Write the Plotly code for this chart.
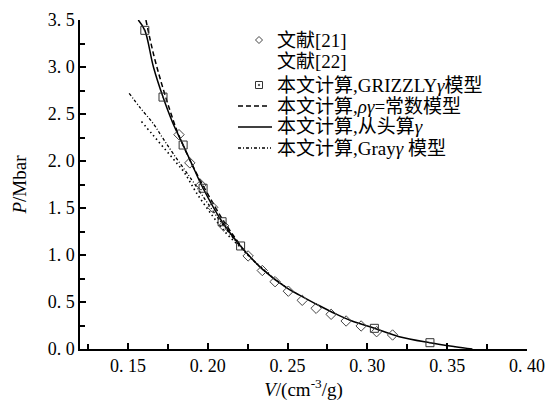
import plotly.graph_objects as go

# 文献[21] (diamonds)
ref21_v = [0.182, 0.1888, 0.1958, 0.2031, 0.2100, 0.2253, 0.2342, 0.2422, 0.2505,
           0.2592, 0.2679, 0.2773, 0.2867, 0.2961, 0.3058, 0.3158]
ref21_p = [2.28, 1.98, 1.745, 1.507, 1.31, 0.99, 0.835, 0.716, 0.615,
           0.518, 0.433, 0.369, 0.298, 0.245, 0.184, 0.149]

# 文献[22] (dotted curve)
ref22_v = [0.1585, 0.1650, 0.1720, 0.1790, 0.1856, 0.1930, 0.2033, 0.2117, 0.2200, 0.2300, 0.2400]
ref22_p = [2.42, 2.29, 2.15, 2.01, 1.87, 1.66, 1.41, 1.23, 1.09, 0.92, 0.78]

# GRIZZLY gamma model (squares)
griz_v = [0.1606, 0.1720, 0.1846, 0.1971, 0.2090, 0.2206, 0.3044, 0.3392]
griz_p = [3.39, 2.68, 2.17, 1.71, 1.354, 1.096, 0.22, 0.067]

# rho*gamma = const model (dashed)
rg_v = [0.1613, 0.1660, 0.1710, 0.1763, 0.1815, 0.1900, 0.2000, 0.2100, 0.2206]
rg_p = [3.50, 3.14, 2.83, 2.54, 2.29, 1.97, 1.65, 1.36, 1.10]

# ab initio gamma (solid)
ab_v = [0.1565, 0.1606, 0.1660, 0.1720, 0.1780, 0.1846, 0.1900, 0.1971, 0.2090, 0.2206,
        0.2342, 0.2500, 0.2575, 0.2700, 0.2800, 0.2900, 0.3044, 0.3200, 0.3392, 0.3550, 0.3658]
ab_p = [3.50, 3.39, 3.00, 2.68, 2.41, 2.17, 1.97, 1.71, 1.354, 1.096,
        0.85, 0.645, 0.574, 0.46, 0.375, 0.30, 0.22, 0.131, 0.067, 0.025, 0.0]

# Gray gamma model (dash-dot)
gray_v = [0.1508, 0.1580, 0.1658, 0.1720, 0.1783, 0.1900, 0.2000, 0.2100, 0.2200, 0.2342, 0.2500]
gray_p = [2.72, 2.56, 2.40, 2.24, 2.08, 1.80, 1.55, 1.31, 1.10, 0.85, 0.645]

legend_labels = ["文献[21]", "文献[22]", "本文计算,GRIZZLY<i>γ</i>模型",
                 "本文计算,<i>ργ</i>=常数模型", "本文计算,从头算<i>γ</i>",
                 "本文计算,Gray<i>γ</i> 模型"]

x_tickvals = [0.15, 0.20, 0.25, 0.30, 0.35, 0.40]
x_ticktext = ["0. 15", "0. 20", "0. 25", "0. 30", "0. 35", "0. 40"]
y_tickvals = [0.0, 0.5, 1.0, 1.5, 2.0, 2.5, 3.0, 3.5]
y_ticktext = ["0. 0", "0. 5", "1. 0", "1. 5", "2. 0", "2. 5", "3. 0", "3. 5"]

FONT = "Liberation Serif, Noto Sans CJK SC, serif"
ML, MR, MT, MB = 80, 22, 20, 57
W, H = 549, 406
PW, PH = W - ML - MR, H - MT - MB


def px(x):
    return (x - ML) / PW


def py(y):
    return (H - MB - y) / PH


DASH_RG = "5px,3px"
DASH_GRAY = "3px,2px,1px,2px"
DASH_22 = "1.5px,3px"

fig = go.Figure()

fig.add_trace(go.Scatter(x=gray_v, y=gray_p, mode="lines", showlegend=False,
                         line=dict(color="black", width=1.3, dash=DASH_GRAY, shape="spline")))
fig.add_trace(go.Scatter(x=ref22_v, y=ref22_p, mode="lines", showlegend=False,
                         line=dict(color="black", width=1.6, dash=DASH_22, shape="spline")))
fig.add_trace(go.Scatter(x=rg_v, y=rg_p, mode="lines", showlegend=False,
                         line=dict(color="black", width=1.5, dash=DASH_RG, shape="spline")))
fig.add_trace(go.Scatter(x=ab_v, y=ab_p, mode="lines", showlegend=False,
                         line=dict(color="black", width=1.5, shape="spline")))
fig.add_trace(go.Scatter(x=ref21_v, y=ref21_p, mode="markers", showlegend=False,
                         marker=dict(symbol="diamond-open", size=8, color="#444",
                                     line=dict(width=1))))
fig.add_trace(go.Scatter(x=griz_v, y=griz_p, mode="markers", showlegend=False,
                         marker=dict(symbol="square-open-dot", size=8, color="#333",
                                     line=dict(width=1))))

# manual legend
row_y = [40, 62, 85, 106, 127, 148]
text_x = 275
annotations = []
for lab, yy in zip(legend_labels, row_y):
    annotations.append(dict(text=lab, x=px(text_x), y=py(yy), xref="paper", yref="paper",
                            xanchor="left", yanchor="middle", showarrow=False,
                            font=dict(size=19, family=FONT, color="black")))

shapes = []
shapes.append(dict(type="path", xref="paper", yref="paper", xsizemode="pixel", ysizemode="pixel",
                   xanchor=px(259), yanchor=py(row_y[0]),
                   path="M -3.5 0 L 0 3.5 L 3.5 0 L 0 -3.5 Z",
                   line=dict(color="#444", width=1)))
shapes.append(dict(type="rect", xref="paper", yref="paper", xsizemode="pixel", ysizemode="pixel",
                   xanchor=px(259), yanchor=py(row_y[2]), x0=-3.5, x1=3.5, y0=-3.5, y1=3.5,
                   line=dict(color="#333", width=1)))
shapes.append(dict(type="rect", xref="paper", yref="paper", xsizemode="pixel", ysizemode="pixel",
                   xanchor=px(259), yanchor=py(row_y[2]), x0=-0.6, x1=0.6, y0=-0.6, y1=0.6,
                   line=dict(color="#333", width=0.8), fillcolor="#333"))
for yy, dash, x0, x1, w in [(row_y[3], DASH_RG, 238, 270, 1.5),
                            (row_y[4], "solid", 238, 272, 1.5),
                            (row_y[5], DASH_GRAY, 238, 271, 1.3)]:
    shapes.append(dict(type="line", xref="paper", yref="paper",
                       x0=px(x0), x1=px(x1), y0=py(yy), y1=py(yy),
                       line=dict(color="black", width=w, dash=dash)))

fig.update_layout(
    width=W, height=H,
    margin=dict(l=ML, r=MR, t=MT, b=MB),
    paper_bgcolor="white", plot_bgcolor="white",
    font=dict(family=FONT, size=18, color="black"),
    showlegend=False,
    hovermode=False,
    annotations=annotations,
    shapes=shapes,
    xaxis=dict(range=[0.12, 0.40], tickvals=x_tickvals, ticktext=x_ticktext, automargin=False,
               showgrid=False, zeroline=False, showline=True, linecolor="black", linewidth=1.5,
               ticks="inside", ticklen=6, tickwidth=1.5, tickcolor="black",
               minor=dict(ticks="inside", dtick=0.025, tick0=0.125, ticklen=5, tickwidth=1.5,
                          tickcolor="black", showgrid=False),
               tickfont=dict(size=18, family=FONT),
               title=dict(text="<i>V</i>/(cm<sup>-3</sup>/g)", font=dict(size=19, family=FONT),
                          standoff=4)),
    yaxis=dict(range=[0, 3.5], tickvals=y_tickvals, ticktext=y_ticktext, automargin=False,
               showgrid=False, zeroline=False, showline=True, linecolor="black", linewidth=1.5,
               ticks="inside", ticklen=6, tickwidth=1.5, tickcolor="black",
               minor=dict(ticks="inside", dtick=0.25, ticklen=5, tickwidth=1.5,
                          tickcolor="black", showgrid=False),
               tickfont=dict(size=18, family=FONT),
               title=dict(text="<i>P</i>/Mbar", font=dict(size=19, family=FONT), standoff=16)),
)

fig.write_html("out.html", config={"displayModeBar": False},
               post_script="document.body.style.margin='0';")
